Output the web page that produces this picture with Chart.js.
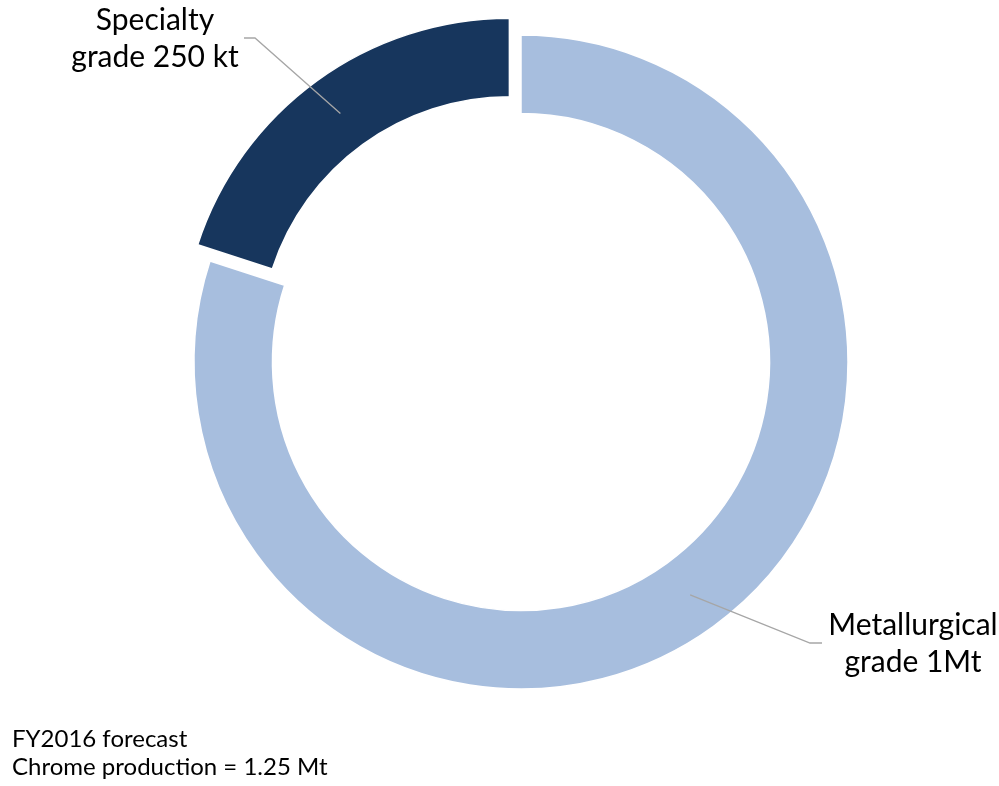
<!DOCTYPE html>
<html>
<head>
<meta charset="utf-8">
<script src="https://cdn.jsdelivr.net/npm/chart.js@4/dist/chart.umd.min.js"></script>
<style>
  html, body { margin: 0; padding: 0; background: #fff; }
  #wrap { position: relative; width: 999px; height: 786px; font-family: Lato, "Open Sans", sans-serif; color: #000; }
  #chart { position: absolute; left: 0; top: 0; }
  .lbl { position: absolute; width: 300px; text-align: center; font-size: 30px; line-height: 37px; white-space: nowrap; }
  #note { position: absolute; left: 12px; top: 724px; font-size: 24px; line-height: 28px; white-space: nowrap; }
</style>
</head>
<body>
<div id="wrap">
  <canvas id="chart" width="999" height="786"></canvas>
  <div class="lbl" id="lbl0" style="left:763px; top:605px;"></div>
  <div class="lbl" id="lbl1" style="left:5px; top:0px;"></div>
  <div id="note"></div>
</div>
<script>
// FY2016 chrome production split, kt
const categories = ['Metallurgical grade', 'Specialty grade'];
const production = [1000, 250];
const labelLines = [['Metallurgical', 'grade 1Mt'], ['Specialty', 'grade 250 kt']];
const noteLines = ['FY2016 forecast', 'Chrome production = 1.25 Mt'];

const colors = ['#a7bede', '#17365d'];
const explode = [0, 78];         // v4 draws offset / 4 -> ~20px
// label elbow + end points of the leader lines (layout only)
const leaderEnds = [
  [[810, 643], [822, 643]],
  [[255, 38], [244, 38]],
];

labelLines.forEach((lines, i) => {
  document.getElementById('lbl' + i).innerHTML = lines.join('<br>');
});
document.getElementById('note').innerHTML = noteLines.join('<br>');

const leaderLines = {
  id: 'leaderLines',
  afterDatasetsDraw(chart) {
    const ctx = chart.ctx;
    const arcs = chart.getDatasetMeta(0).data;
    ctx.save();
    ctx.strokeStyle = '#a6a6a6';
    ctx.lineWidth = 1.3;
    arcs.forEach((arc, i) => {
      const p = arc.getProps(['x', 'y', 'startAngle', 'endAngle', 'innerRadius', 'outerRadius']);
      const mid = (p.startAngle + p.endAngle) / 2;
      const shift = (arc.options.offset || 0) / 4;
      const r = (p.innerRadius + p.outerRadius) / 2;
      const ax = p.x + Math.cos(mid) * (shift + r);
      const ay = p.y + Math.sin(mid) * (shift + r);
      ctx.beginPath();
      ctx.moveTo(ax, ay);
      leaderEnds[i].forEach(([x, y]) => ctx.lineTo(x, y));
      ctx.stroke();
    });
    ctx.restore();
  },
};

new Chart(document.getElementById('chart'), {
  type: 'doughnut',
  data: {
    labels: categories,
    datasets: [{
      data: production,
      backgroundColor: colors,
      borderColor: '#fff',
      borderWidth: 1.5,
      offset: explode,
      hoverOffset: 0,
    }],
  },
  options: {
    responsive: false,
    animation: false,
    radius: 327,
    cutout: '76%',
    layout: { padding: { left: 43, right: 0, top: 0, bottom: 62 } },
    plugins: { legend: { display: false }, tooltip: { enabled: false } },
  },
  plugins: [leaderLines],
});
</script>
</body>
</html>
